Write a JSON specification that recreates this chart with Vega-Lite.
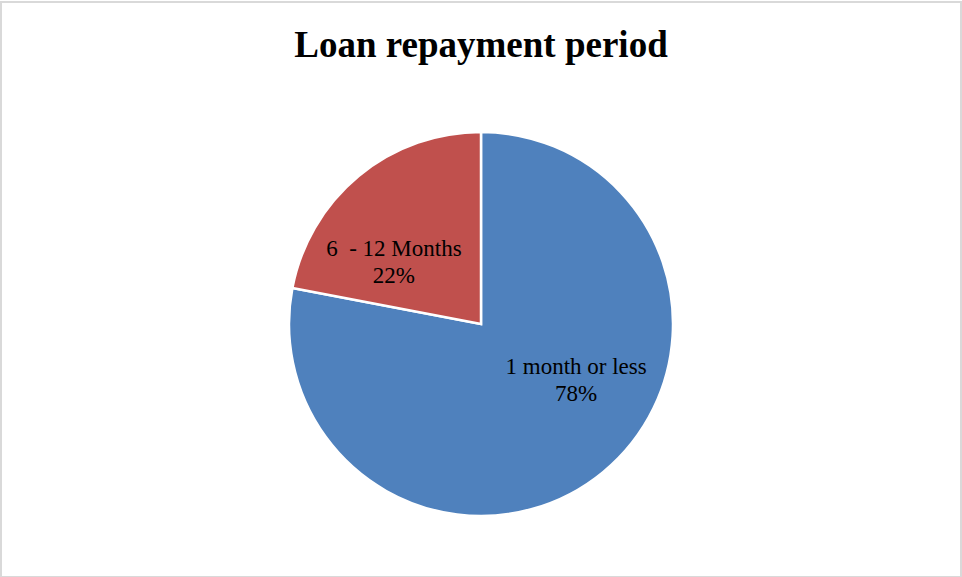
{
  "$schema": "https://vega.github.io/schema/vega-lite/v6.json",
  "width": 960,
  "height": 575,
  "autosize": {"type": "none"},
  "padding": {"top": 2, "left": 1, "right": 1, "bottom": 0},
  "background": "white",
  "title": {
    "text": "Loan repayment period",
    "font": "Liberation Serif",
    "fontSize": 37,
    "fontWeight": "bold",
    "color": "#000000",
    "anchor": "middle",
    "baseline": "alphabetic",
    "offset": -92
  },
  "config": {"view": {"stroke": "#d9d9d9", "strokeWidth": 2}},
  "data": {
    "values": [
      {"period": "1 month or less", "pct": 78},
      {"period": "6  - 12 Months", "pct": 22}
    ]
  },
  "transform": [{"calculate": "replace(datum.period, '  ', '\u00a0 ') + '\\n' + datum.pct + '%'", "as": "label"}],
  "encoding": {
    "theta": {"field": "pct", "type": "quantitative", "stack": true},
    "order": {"field": "pct", "type": "quantitative", "sort": "descending"},
    "y": {"datum": "pie", "type": "nominal", "scale": {"type": "point", "align": 0.56, "padding": 0}, "axis": null},
    "color": {
      "field": "period",
      "type": "nominal",
      "scale": {"domain": ["1 month or less", "6  - 12 Months"], "range": ["#4F81BD", "#C0504D"]},
      "legend": null
    }
  },
  "layer": [
    {"mark": {"type": "arc", "outerRadius": 192, "stroke": "white", "strokeWidth": 2.5}},
    {
      "mark": {"type": "text", "radius": 110, "dx": 25, "dy": -42, "font": "Liberation Serif", "fontSize": 23, "lineBreak": "\n", "lineHeight": 27, "align": "center", "baseline": "middle"},
      "encoding": {
        "text": {"field": "label", "type": "nominal"},
        "color": {"value": "#000000"},
        "opacity": {"condition": {"test": "datum.period == '1 month or less'", "value": 1}, "value": 0}
      }
    },
    {
      "mark": {"type": "text", "radius": 110, "dx": -17, "dy": 10, "font": "Liberation Serif", "fontSize": 23, "lineBreak": "\n", "lineHeight": 27, "align": "center", "baseline": "middle"},
      "encoding": {
        "text": {"field": "label", "type": "nominal"},
        "color": {"value": "#000000"},
        "opacity": {"condition": {"test": "datum.period == '6  - 12 Months'", "value": 1}, "value": 0}
      }
    }
  ]
}
